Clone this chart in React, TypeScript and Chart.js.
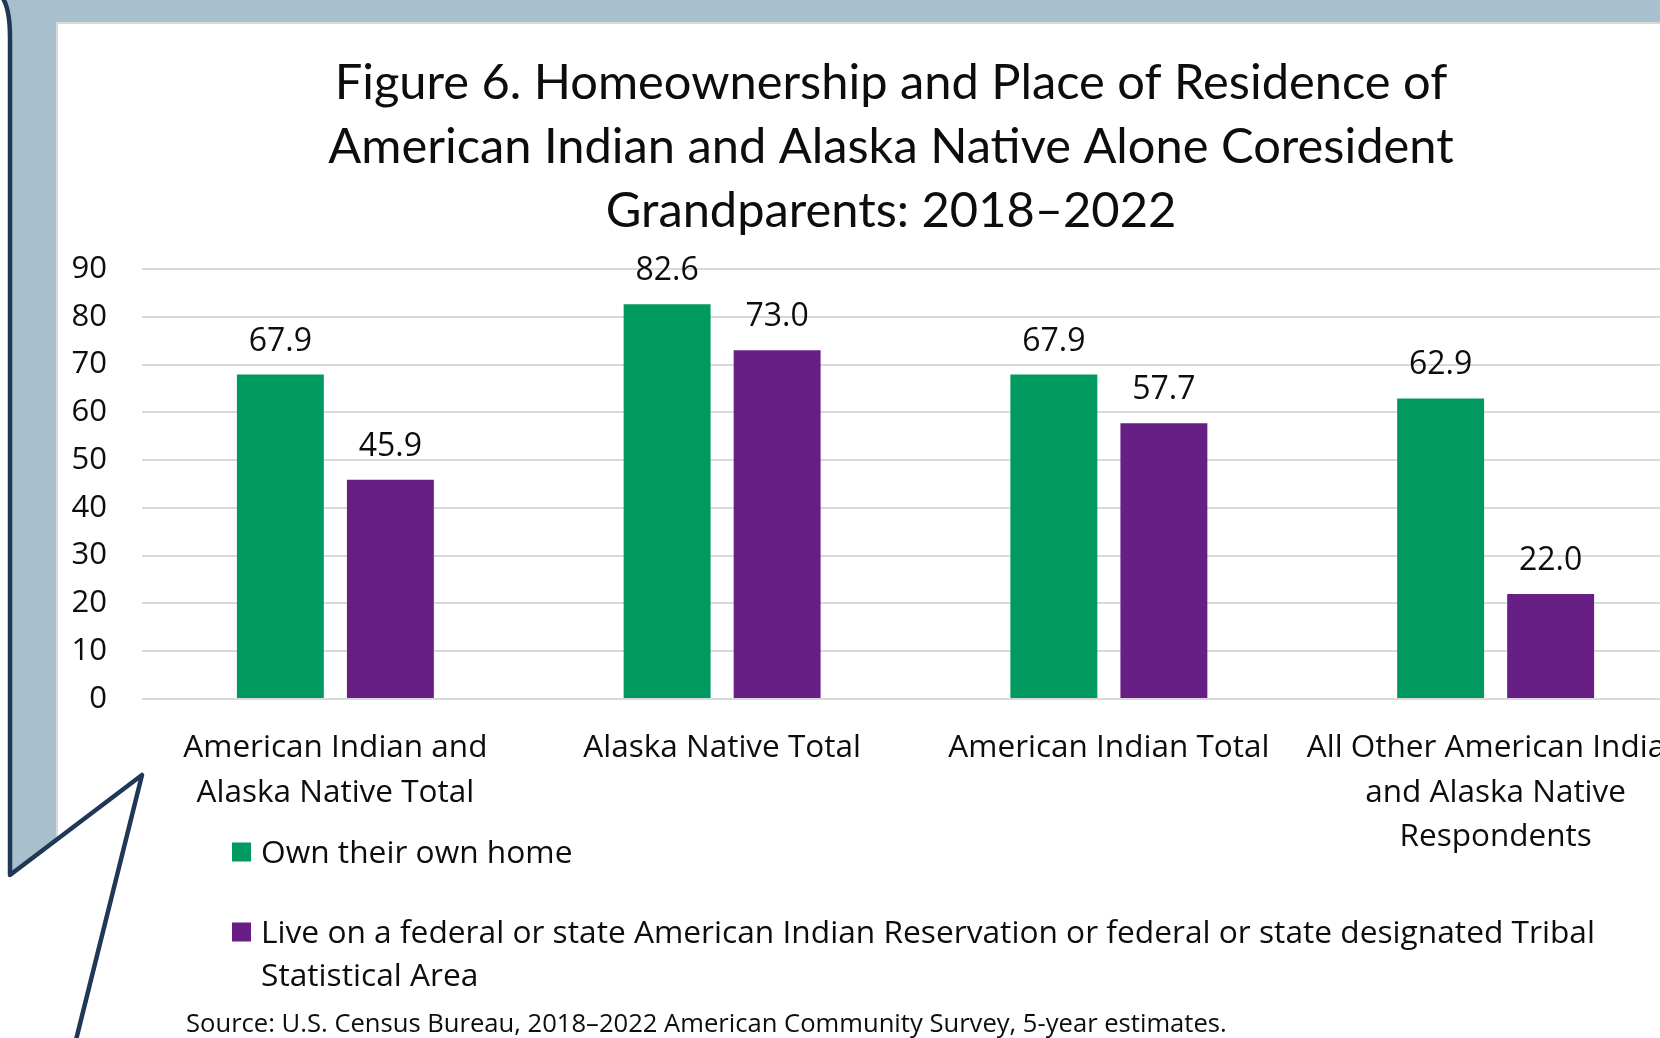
import React, { useEffect, useRef } from "react";
import { Chart, registerables } from "chart.js";

Chart.register(...registerables);

const categories: (string | string[])[] = [
  ["American Indian and", "Alaska Native Total"],
  "Alaska Native Total",
  "American Indian Total",
  ["All Other American Indian", "and Alaska Native", "Respondents"],
];
const ownHome = [67.9, 82.6, 67.9, 62.9];
const liveOnReservation = [45.9, 73.0, 57.7, 22.0];
const seriesNames = [
  "Own their own home",
  "Live on a federal or state American Indian Reservation or federal or state designated Tribal Statistical Area",
];
const legendLines = [
  ["Own their own home"],
  ["Live on a federal or state American Indian Reservation or federal or state designated Tribal", "Statistical Area"],
];
const seriesColors = ["#00995F", "#671E85"];
const titleLines = [
  "Figure 6. Homeownership and Place of Residence of",
  "American Indian and Alaska Native Alone Coresident",
  "Grandparents: 2018\u20132022",
];
const sourceNote = "Source: U.S. Census Bureau, 2018\u20132022 American Community Survey, 5-year estimates.";
const yMin = 0;
const yMax = 90;
const yStep = 10;

const TITLE_FONT = "Lato, 'Open Sans', sans-serif";
const FONT = "'Open Sans', Lato, sans-serif";
const TEXT = "#0d0d0d";
const CANVAS_W = 1760;
const CANVAS_H = 1038;

const decorPlugin = {
  id: "decor",
  beforeDraw(chart: any) {
    const ctx = chart.ctx as CanvasRenderingContext2D;
    ctx.save();
    // light blue callout fill
    ctx.fillStyle = "#A8BFCD";
    ctx.beginPath();
    ctx.moveTo(3, 0);
    ctx.lineTo(CANVAS_W, 0);
    ctx.lineTo(CANVAS_W, 23);
    ctx.lineTo(57, 23);
    ctx.lineTo(57, 839);
    ctx.lineTo(10, 875);
    ctx.lineTo(10, 38);
    ctx.quadraticCurveTo(10, 8, 3, 0);
    ctx.closePath();
    ctx.fill();
    // thin grey border of the white panel
    ctx.strokeStyle = "#d9d9d9";
    ctx.lineWidth = 2;
    ctx.beginPath();
    ctx.moveTo(57, 839);
    ctx.lineTo(57, 23);
    ctx.lineTo(CANVAS_W, 23);
    ctx.stroke();
    // navy outline
    ctx.strokeStyle = "#1E3856";
    ctx.lineWidth = 4.5;
    ctx.lineJoin = "round";
    ctx.lineCap = "round";
    ctx.beginPath();
    ctx.moveTo(2, -3);
    ctx.quadraticCurveTo(10, 8, 10, 38);
    ctx.lineTo(10, 875);
    ctx.lineTo(142, 775);
    ctx.lineTo(74, 1048);
    ctx.stroke();
    ctx.restore();
  },
  afterDatasetsDraw(chart: any) {
    const ctx = chart.ctx as CanvasRenderingContext2D;
    ctx.save();
    ctx.font = `32px ${FONT}`;
    ctx.fillStyle = TEXT;
    ctx.textAlign = "center";
    ctx.textBaseline = "alphabetic";
    chart.data.datasets.forEach((ds: any, i: number) => {
      const meta = chart.getDatasetMeta(i);
      meta.data.forEach((el: any, j: number) => {
        ctx.fillText(Number(ds.data[j]).toFixed(1), el.x, el.y - 24);
      });
    });
    ctx.restore();
  },
  afterDraw(chart: any) {
    const ctx = chart.ctx as CanvasRenderingContext2D;
    ctx.save();
    ctx.fillStyle = TEXT;
    // title
    ctx.font = `48.8px ${TITLE_FONT}`;
    ctx.textAlign = "center";
    ctx.textBaseline = "alphabetic";
    titleLines.forEach((t, i) => ctx.fillText(t, 891, 99 + i * 64));
    // legend
    ctx.textAlign = "left";
    ctx.textBaseline = "middle";
    ctx.font = `31.7px ${FONT}`;
    const itemY = [852, 932];
    legendLines.forEach((lines, i) => {
      ctx.fillStyle = seriesColors[i];
      ctx.fillRect(232, itemY[i] - 9.5, 19, 19);
      ctx.fillStyle = TEXT;
      lines.forEach((l, k) => ctx.fillText(l, 261, itemY[i] + 2 + k * 43));
    });
    // source
    ctx.textBaseline = "alphabetic";
    ctx.font = `25.6px ${FONT}`;
    ctx.fillText(sourceNote, 186, 1032);
    ctx.restore();
  },
};

export default function App() {
  const ref = useRef<HTMLCanvasElement | null>(null);
  useEffect(() => {
    if (!ref.current) return;
    document.body.style.margin = "0";
    const chart = new Chart(ref.current, {
      type: "bar",
      data: {
        labels: categories as any,
        datasets: [
          {
            label: seriesNames[0],
            data: ownHome,
            backgroundColor: seriesColors[0],
            categoryPercentage: 0.569,
            barPercentage: 0.79,
          },
          {
            label: seriesNames[1],
            data: liveOnReservation,
            backgroundColor: seriesColors[1],
            categoryPercentage: 0.569,
            barPercentage: 0.79,
          },
        ],
      },
      options: {
        responsive: false,
        animation: false,
        devicePixelRatio: 1,
        layout: { padding: { left: 0, right: 71, top: 269, bottom: 139 } },
        plugins: {
          legend: { display: false },
          title: { display: false },
          tooltip: { enabled: false },
        },
        scales: {
          x: {
            grid: { display: false, drawTicks: false },
            border: { display: false },
            ticks: {
              color: TEXT,
              font: { family: FONT, size: 31.5, lineHeight: 1.413 },
              padding: 27,
              maxRotation: 0,
              minRotation: 0,
              autoSkip: false,
            },
            afterFit: (s: any) => {
              s.height = 200;
            },
          },
          y: {
            min: yMin,
            max: yMax,
            grid: { color: "#d9d9d9", lineWidth: 2, drawTicks: false },
            border: { display: false },
            ticks: {
              stepSize: yStep,
              color: TEXT,
              font: { family: FONT, size: 31 },
              padding: 35,
            },
            afterFit: (s: any) => {
              s.width = 142;
            },
          },
        },
      },
      plugins: [decorPlugin],
    });
    let alive = true;
    if ((document as any).fonts) {
      Promise.all([
        (document as any).fonts.load(`48px Lato`),
        (document as any).fonts.load(`30px "Open Sans"`),
      ]).then(() => {
        if (alive) chart.update();
      });
    }
    return () => {
      alive = false;
      chart.destroy();
    };
  }, []);
  return (
    <div
      style={{
        position: "fixed",
        left: 0,
        top: 0,
        width: 1660,
        height: 1038,
        overflow: "hidden",
        background: "#ffffff",
      }}
    >
      <canvas
        ref={ref}
        width={CANVAS_W}
        height={CANVAS_H}
        style={{ width: CANVAS_W, height: CANVAS_H, display: "block" }}
      />
    </div>
  );
}
